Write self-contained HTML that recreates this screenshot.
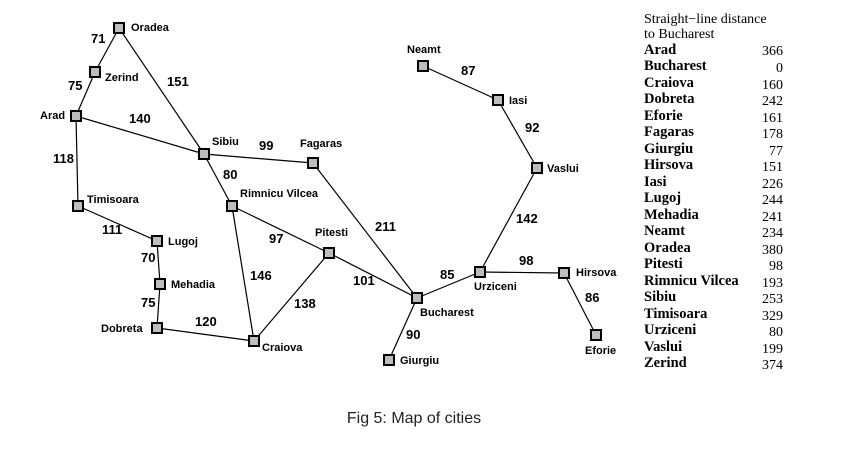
<!DOCTYPE html>
<html><head><meta charset="utf-8"><style>
html,body{margin:0;padding:0;background:#fff;width:856px;height:457px;overflow:hidden}
svg{display:block}
.c{font-family:"Liberation Sans",sans-serif;font-weight:bold;font-size:11px;fill:#000}
.n{font-family:"Liberation Sans",sans-serif;font-weight:bold;font-size:13px;fill:#000}
.t{font-family:"Liberation Serif",serif;font-size:14px;fill:#000}
.tb{font-family:"Liberation Serif",serif;font-size:14.5px;font-weight:bold;fill:#000}
</style></head><body>
<svg width="856" height="457" viewBox="0 0 856 457">
<g stroke="#000" stroke-width="1.2" fill="none">
<line x1="119" y1="28" x2="95" y2="72"/>
<line x1="95" y1="72" x2="76" y2="116"/>
<line x1="119" y1="28" x2="204" y2="154"/>
<line x1="76" y1="116" x2="204" y2="154"/>
<line x1="76" y1="116" x2="78" y2="206"/>
<line x1="78" y1="206" x2="157" y2="241"/>
<line x1="157" y1="241" x2="160" y2="284"/>
<line x1="160" y1="284" x2="157" y2="328"/>
<line x1="157" y1="328" x2="254" y2="341"/>
<line x1="204" y1="154" x2="313" y2="163"/>
<line x1="204" y1="154" x2="232" y2="206"/>
<line x1="232" y1="206" x2="254" y2="341"/>
<line x1="232" y1="206" x2="329" y2="253"/>
<line x1="254" y1="341" x2="329" y2="253"/>
<line x1="313" y1="163" x2="417" y2="298"/>
<line x1="329" y1="253" x2="417" y2="298"/>
<line x1="417" y1="298" x2="389" y2="360"/>
<line x1="417" y1="298" x2="480" y2="272"/>
<line x1="480" y1="272" x2="564" y2="273"/>
<line x1="564" y1="273" x2="596" y2="335"/>
<line x1="480" y1="272" x2="537" y2="168"/>
<line x1="537" y1="168" x2="498" y2="100"/>
<line x1="498" y1="100" x2="423" y2="66"/>
</g>
<g fill="#bdbdbd" stroke="#000" stroke-width="2">
<rect x="114" y="23" width="10" height="10"/>
<rect x="90" y="67" width="10" height="10"/>
<rect x="71" y="111" width="10" height="10"/>
<rect x="199" y="149" width="10" height="10"/>
<rect x="308" y="158" width="10" height="10"/>
<rect x="73" y="201" width="10" height="10"/>
<rect x="152" y="236" width="10" height="10"/>
<rect x="155" y="279" width="10" height="10"/>
<rect x="152" y="323" width="10" height="10"/>
<rect x="249" y="336" width="10" height="10"/>
<rect x="227" y="201" width="10" height="10"/>
<rect x="324" y="248" width="10" height="10"/>
<rect x="412" y="293" width="10" height="10"/>
<rect x="384" y="355" width="10" height="10"/>
<rect x="475" y="267" width="10" height="10"/>
<rect x="559" y="268" width="10" height="10"/>
<rect x="591" y="330" width="10" height="10"/>
<rect x="532" y="163" width="10" height="10"/>
<rect x="493" y="95" width="10" height="10"/>
<rect x="418" y="61" width="10" height="10"/>
</g>
<g class="c">
<text x="131" y="31">Oradea</text>
<text x="105" y="81">Zerind</text>
<text x="40" y="119">Arad</text>
<text x="212" y="145">Sibiu</text>
<text x="300" y="147">Fagaras</text>
<text x="87" y="203">Timisoara</text>
<text x="168" y="245">Lugoj</text>
<text x="171" y="288">Mehadia</text>
<text x="101" y="332">Dobreta</text>
<text x="262" y="351">Craiova</text>
<text x="240" y="197">Rimnicu Vilcea</text>
<text x="315" y="236">Pitesti</text>
<text x="420" y="316">Bucharest</text>
<text x="400" y="364">Giurgiu</text>
<text x="474" y="290">Urziceni</text>
<text x="576" y="276">Hirsova</text>
<text x="585" y="354">Eforie</text>
<text x="547" y="172">Vaslui</text>
<text x="509" y="104">Iasi</text>
<text x="407" y="53">Neamt</text>
</g>
<g class="n">
<text x="91" y="43">71</text>
<text x="68" y="90">75</text>
<text x="167" y="86">151</text>
<text x="129" y="123">140</text>
<text x="53" y="163">118</text>
<text x="259" y="150">99</text>
<text x="223" y="179">80</text>
<text x="102" y="234">111</text>
<text x="141" y="262">70</text>
<text x="141" y="307">75</text>
<text x="195" y="326">120</text>
<text x="269" y="243">97</text>
<text x="250" y="280">146</text>
<text x="294" y="308">138</text>
<text x="353" y="285">101</text>
<text x="375" y="231">211</text>
<text x="440" y="279">85</text>
<text x="406" y="339">90</text>
<text x="516" y="223">142</text>
<text x="519" y="265">98</text>
<text x="585" y="302">86</text>
<text x="525" y="132">92</text>
<text x="461" y="75">87</text>
</g>
<text class="t" x="644" y="23">Straight−line distance</text>
<text class="t" x="644" y="38">to Bucharest</text>
<g class="tb">
<text x="644" y="54">Arad</text>
<text x="644" y="70">Bucharest</text>
<text x="644" y="87">Craiova</text>
<text x="644" y="103">Dobreta</text>
<text x="644" y="120">Eforie</text>
<text x="644" y="136">Fagaras</text>
<text x="644" y="153">Giurgiu</text>
<text x="644" y="169">Hirsova</text>
<text x="644" y="186">Iasi</text>
<text x="644" y="202">Lugoj</text>
<text x="644" y="219">Mehadia</text>
<text x="644" y="235">Neamt</text>
<text x="644" y="252">Oradea</text>
<text x="644" y="268">Pitesti</text>
<text x="644" y="285">Rimnicu Vilcea</text>
<text x="644" y="301">Sibiu</text>
<text x="644" y="318">Timisoara</text>
<text x="644" y="334">Urziceni</text>
<text x="644" y="351">Vaslui</text>
<text x="644" y="367">Zerind</text>
</g>
<g class="t" text-anchor="end">
<text x="783" y="55">366</text>
<text x="783" y="72">0</text>
<text x="783" y="89">160</text>
<text x="783" y="105">242</text>
<text x="783" y="122">161</text>
<text x="783" y="138">178</text>
<text x="783" y="155">77</text>
<text x="783" y="171">151</text>
<text x="783" y="188">226</text>
<text x="783" y="204">244</text>
<text x="783" y="221">241</text>
<text x="783" y="237">234</text>
<text x="783" y="254">380</text>
<text x="783" y="270">98</text>
<text x="783" y="287">193</text>
<text x="783" y="303">253</text>
<text x="783" y="320">329</text>
<text x="783" y="336">80</text>
<text x="783" y="353">199</text>
<text x="783" y="369">374</text>
</g>
<text x="414" y="423" text-anchor="middle" style="font-family:'Liberation Sans',sans-serif;font-size:16px;fill:#222">Fig 5: Map of cities</text>
</svg>
</body></html>
